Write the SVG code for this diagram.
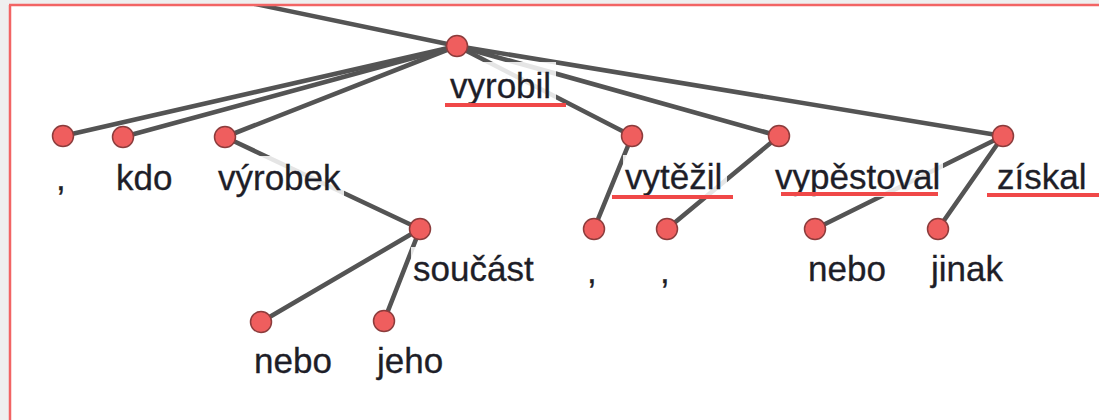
<svg xmlns="http://www.w3.org/2000/svg" width="1099" height="420" viewBox="0 0 1099 420">
<style>
.edge{stroke:#545454;stroke-width:4.6;stroke-linecap:round;fill:none}
.node{fill:#ef5e5e;stroke:#8c3c3c;stroke-width:1.5}
.lbl{font-family:"Liberation Sans",Arial,sans-serif;font-size:35px;fill:#1e1e28;stroke:#1e1e28;stroke-width:0.3}
.bg{fill:#ffffff;fill-opacity:0.85}
.ul{fill:#f04848}
</style>
<rect x="0" y="0" width="1099" height="420" fill="#efefef"/>
<rect x="10" y="5" width="1100" height="420" fill="#ffffff"/>
<g id="connectors">
<line class="edge" x1="457" y1="46" x2="236" y2="0"/>
<line class="edge" x1="457" y1="46" x2="63" y2="136"/>
<line class="edge" x1="457" y1="46" x2="123" y2="137"/>
<line class="edge" x1="457" y1="46" x2="225" y2="137"/>
<line class="edge" x1="457" y1="46" x2="632" y2="136"/>
<line class="edge" x1="457" y1="46" x2="779" y2="136"/>
<line class="edge" x1="457" y1="46" x2="1003" y2="136"/>
<line class="edge" x1="225" y1="137" x2="420" y2="229"/>
<line class="edge" x1="420" y1="229" x2="261" y2="322"/>
<line class="edge" x1="420" y1="229" x2="384" y2="321"/>
<line class="edge" x1="632" y1="136" x2="594" y2="229"/>
<line class="edge" x1="779" y1="136" x2="667" y2="229"/>
<line class="edge" x1="1003" y1="136" x2="815" y2="229"/>
<line class="edge" x1="1003" y1="136" x2="938" y2="229"/>
</g>
<rect x="0" y="0" width="1099" height="4" fill="#efefef"/>
<line x1="9" y1="5" x2="1099" y2="5" stroke="#f26464" stroke-width="2.5"/>
<line x1="10" y1="5" x2="10" y2="420" stroke="#f26464" stroke-width="2.5"/>
<g id="n-comma1"><rect class="bg" x="54" y="156" width="14" height="42"/><text class="lbl" x="56" y="190">,</text><circle class="node" cx="63" cy="136" r="10.5"/></g>
<g id="n-kdo"><rect class="bg" x="114" y="156" width="62" height="42"/><text class="lbl" x="116" y="190">kdo</text><circle class="node" cx="123" cy="137" r="10.5"/></g>
<g id="n-vyrobek"><rect class="bg" x="216" y="156" width="128" height="42"/><text class="lbl" x="218" y="190">výrobek</text><circle class="node" cx="225" cy="137" r="10.5"/></g>
<g id="n-vyrobil"><rect class="bg" x="448" y="62" width="108" height="42"/><text class="lbl" x="450" y="98">vyrobil</text><rect class="ul" x="445" y="103" width="121" height="4"/><circle class="node" cx="457" cy="46" r="10.5"/></g>
<g id="n-vytezil"><rect class="bg" x="623" y="155" width="104" height="42"/><text class="lbl" x="625" y="189">vytěžil</text><rect class="ul" x="612" y="195" width="121" height="4"/><circle class="node" cx="632" cy="136" r="10.5"/></g>
<g id="n-vypestoval"><rect class="bg" x="773" y="155" width="170" height="42"/><text class="lbl" x="775" y="189">vypěstoval</text><rect class="ul" x="781" y="192" width="157" height="4"/><circle class="node" cx="779" cy="136" r="10.5"/></g>
<g id="n-ziskal"><rect class="bg" x="995" y="155" width="104" height="42"/><text class="lbl" x="997" y="189">získal</text><rect class="ul" x="987" y="193" width="112" height="4"/><circle class="node" cx="1003" cy="136" r="10.5"/></g>
<g id="n-soucast"><rect class="bg" x="411" y="247" width="124" height="42"/><text class="lbl" x="413" y="281">součást</text><circle class="node" cx="420" cy="229" r="10.5"/></g>
<g id="n-nebo1"><rect class="bg" x="252" y="339" width="82" height="42"/><text class="lbl" x="254" y="373">nebo</text><circle class="node" cx="261" cy="322" r="10.5"/></g>
<g id="n-jeho"><rect class="bg" x="375" y="339" width="70" height="42"/><text class="lbl" x="377" y="373">jeho</text><circle class="node" cx="384" cy="321" r="10.5"/></g>
<g id="n-comma2"><rect class="bg" x="585" y="249" width="14" height="42"/><text class="lbl" x="587" y="283">,</text><circle class="node" cx="594" cy="229" r="10.5"/></g>
<g id="n-comma3"><rect class="bg" x="658" y="249" width="14" height="42"/><text class="lbl" x="660" y="283">,</text><circle class="node" cx="667" cy="229" r="10.5"/></g>
<g id="n-nebo2"><rect class="bg" x="806" y="247" width="82" height="42"/><text class="lbl" x="808" y="281">nebo</text><circle class="node" cx="815" cy="229" r="10.5"/></g>
<g id="n-jinak"><rect class="bg" x="929" y="247" width="80" height="42"/><text class="lbl" x="931" y="281">jinak</text><circle class="node" cx="938" cy="229" r="10.5"/></g>
</svg>
